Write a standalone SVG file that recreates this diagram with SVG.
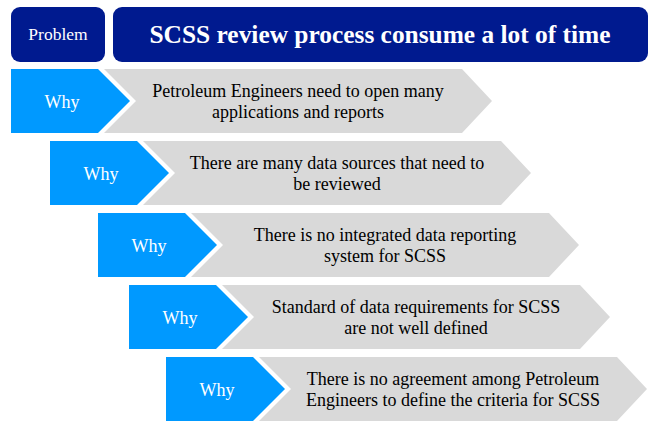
<svg xmlns="http://www.w3.org/2000/svg" width="651" height="423" viewBox="0 0 651 423">
  <style>
    .hdr { fill: #001A8F; }
    .why { fill: #0099FF; }
    .cause { fill: #D9D9D9; }
    text { font-family: "Liberation Serif", "Times New Roman", serif; }
    .wt { fill: #FFFFFF; font-size: 18px; text-anchor: middle; }
    .ct { fill: #000000; font-size: 18px; text-anchor: middle; }
    .title { fill: #FFFFFF; font-size: 25.4px; font-weight: bold; text-anchor: middle; }
  </style>
  <defs>
    <!-- blue "Why" arrow and grey chevron holding the cause text -->
    <path id="whyShape" d="M0,0 H87 L119,32 L87,64 H0 Z"/>
    <path id="causeShape" d="M93,0 H451 L481,32 L451,64 H93 L125,32 Z"/>
  </defs>

  <g id="problem">
    <rect class="hdr" x="11" y="7" width="94" height="55" rx="9"/>
    <text class="wt" x="58" y="40" style="font-size:17.5px">Problem</text>
  </g>
  <g id="problem-statement">
    <rect class="hdr" x="113" y="7" width="535" height="55" rx="9"/>
    <text class="title" x="380" y="43">SCSS review process consume a lot of time</text>
  </g>

  <g id="why1" transform="translate(11,69)">
    <use href="#whyShape" class="why"/>
    <use href="#causeShape" class="cause"/>
    <text class="wt" x="51" y="39">Why</text>
    <text class="ct" x="287" y="28">Petroleum Engineers need to open many</text>
    <text class="ct" x="287" y="49">applications and reports</text>
  </g>
  <g id="why2" transform="translate(50,141)">
    <use href="#whyShape" class="why"/>
    <use href="#causeShape" class="cause"/>
    <text class="wt" x="51" y="39">Why</text>
    <text class="ct" x="287" y="28">There are many data sources that need to</text>
    <text class="ct" x="287" y="49">be reviewed</text>
  </g>
  <g id="why3" transform="translate(98,213)">
    <use href="#whyShape" class="why"/>
    <use href="#causeShape" class="cause"/>
    <text class="wt" x="51" y="39">Why</text>
    <text class="ct" x="287" y="28">There is no integrated data reporting</text>
    <text class="ct" x="287" y="49">system for SCSS</text>
  </g>
  <g id="why4" transform="translate(129,285)">
    <use href="#whyShape" class="why"/>
    <use href="#causeShape" class="cause"/>
    <text class="wt" x="51" y="39">Why</text>
    <text class="ct" x="287" y="28">Standard of data requirements for SCSS</text>
    <text class="ct" x="287" y="49">are not well defined</text>
  </g>
  <g id="why5" transform="translate(166,357)">
    <use href="#whyShape" class="why"/>
    <use href="#causeShape" class="cause"/>
    <text class="wt" x="51" y="39">Why</text>
    <text class="ct" x="287" y="28">There is no agreement among Petroleum</text>
    <text class="ct" x="287" y="49">Engineers to define the criteria for SCSS</text>
  </g>

  <g id="connectors"></g>
</svg>
